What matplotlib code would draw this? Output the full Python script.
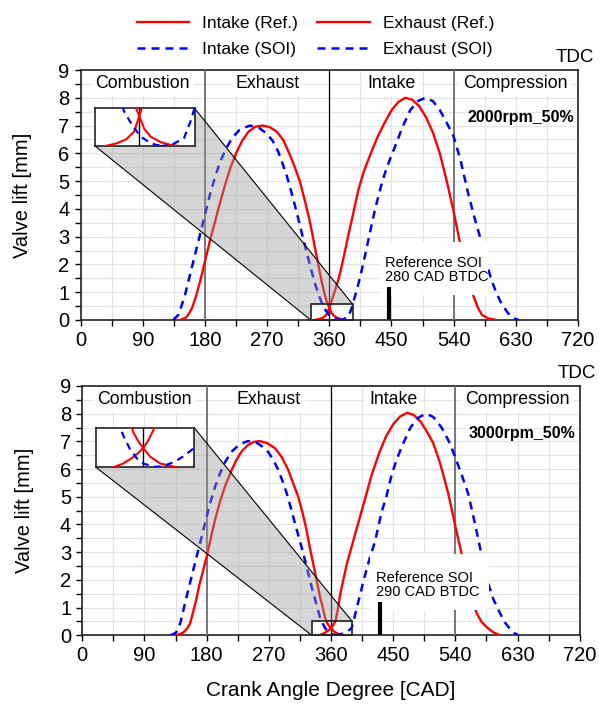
import matplotlib
matplotlib.use("Agg")
import matplotlib.pyplot as plt
from matplotlib.patches import Polygon, Rectangle
from matplotlib.lines import Line2D
from matplotlib.ticker import MultipleLocator

plt.rcParams['font.family'] = ['Liberation Sans', 'DejaVu Sans']

# ---- values: crank angle [CAD] and valve lift [mm] ----
# 2000rpm_50%
ex_ref_cad_2000 = [144, 152, 156, 161, 167, 173, 182, 188, 194.5, 201, 209, 217, 226, 234, 243, 253, 264,
                   274, 284, 294, 303, 310, 317.5, 324, 330, 335, 340, 345, 349, 353, 356, 360, 363, 367,
                   373, 379, 385]
ex_ref_lift_2000 = [0, 0.08, 0.2, 0.42, 0.85, 1.4, 2.32, 2.95, 3.54, 4.15, 4.86, 5.5, 6.06, 6.46, 6.78, 6.96, 7.0,
                    6.94, 6.78, 6.45, 5.94, 5.5, 4.98, 4.35, 3.75, 3.15, 2.5, 1.88, 1.38, 0.95, 0.68, 0.45, 0.26, 0.14,
                    0.06, 0.02, 0]
in_ref_cad_2000 = [339, 346, 352, 357, 360.5, 364, 368, 373, 378, 383, 387.5, 392.5, 402, 410, 420, 430, 440,
                   450, 460, 470, 480, 490, 500, 510, 520, 530, 540, 549, 558, 564, 569, 575, 581, 590, 602]
in_ref_lift_2000 = [0, 0.04, 0.1, 0.22, 0.48, 0.75, 1.05, 1.44, 1.95, 2.52, 3.05, 3.6, 4.68, 5.35, 6.0, 6.6, 7.1,
                    7.55, 7.85, 8.0, 7.93, 7.7, 7.3, 6.75, 6.0, 5.0, 3.9, 2.8, 1.8, 1.25, 0.84, 0.45, 0.18, 0.06, 0]
ex_soi_cad_2000 = [134, 142, 151, 157, 163, 169, 175, 181, 187, 194, 202, 210, 219, 230, 245, 258, 269, 278,
                   286, 292, 298, 304, 310, 316, 322, 328, 334.5, 340, 346.5, 351, 356, 361, 366, 370, 375]
ex_soi_lift_2000 = [0, 0.2, 0.9, 1.5, 2.1, 2.7, 3.3, 3.9, 4.5, 5.1, 5.7, 6.15, 6.54, 6.85, 7.0, 6.92, 6.72, 6.45,
                    6.06, 5.65, 5.22, 4.7, 4.14, 3.55, 2.94, 2.35, 1.74, 1.25, 0.78, 0.5, 0.3, 0.14, 0.06, 0.02, 0]
in_soi_cad_2000 = [373, 380, 387.5, 392, 397, 402, 407, 411.5, 416.5, 421, 426, 431, 436, 442, 448, 456, 466,
                   477, 488, 499, 510, 520, 530, 540, 550, 561, 570, 578, 586, 594, 602, 610, 619, 626, 634]
in_soi_lift_2000 = [0, 0.02, 0.12, 0.4, 0.84, 1.3, 1.8, 2.3, 2.88, 3.4, 3.96, 4.45, 4.92, 5.4, 5.8, 6.3, 6.95,
                    7.55, 7.88, 8.0, 7.88, 7.56, 7.1, 6.6, 5.75, 4.56, 3.7, 3.0, 2.2, 1.5, 0.96, 0.55, 0.24, 0.08, 0]

# 3000rpm_50%
ex_ref_cad_3000 = [137, 146, 152, 156, 160, 165, 170, 175, 180, 186, 192, 199, 206.5, 215, 223, 231, 240, 248,
                   257, 268, 279, 289, 298, 305, 312.5, 319, 324.5, 329, 334, 339, 344, 348, 351, 354, 357,
                   360, 364, 370, 380]
ex_ref_lift_3000 = [0, 0.1, 0.25, 0.43, 0.8, 1.3, 1.88, 2.35, 2.84, 3.5, 4.16, 4.8, 5.37, 5.9, 6.33, 6.65, 6.87,
                    6.98, 7.01, 6.93, 6.75, 6.42, 5.97, 5.5, 5.0, 4.4, 3.8, 3.2, 2.6, 2.0, 1.39, 1.0, 0.67, 0.46,
                    0.34, 0.25, 0.14, 0.05, 0]
in_ref_cad_3000 = [342, 348, 353, 357, 360, 363, 366.5, 370, 373, 382.5, 394.5, 406.7, 418.8, 430, 440, 450,
                   460, 470.5, 480, 490, 500, 508, 518, 529.6, 540, 551, 558, 565, 570.7, 578, 585, 594, 604.5]
in_ref_lift_3000 = [0, 0.05, 0.12, 0.19, 0.26, 0.36, 0.52, 0.95, 1.45, 2.54, 3.62, 4.7, 5.79, 6.6, 7.2, 7.62,
                    7.9, 8.03, 7.95, 7.7, 7.3, 6.93, 6.2, 5.13, 3.92, 2.72, 1.9, 1.25, 0.8, 0.48, 0.3, 0.12, 0]
ex_soi_cad_3000 = [128, 136, 142, 148.6, 154.5, 160.6, 166.7, 172.8, 178.8, 184.8, 192, 199.3, 207, 216.2, 228,
                   240, 254, 267, 276, 283.6, 290, 295.8, 301.8, 307.8, 313.8, 319.8, 325.8, 331.9, 338, 344,
                   348, 352, 356, 360, 366, 372]
ex_soi_lift_3000 = [0, 0.1, 0.45, 1.15, 1.75, 2.36, 2.96, 3.56, 4.16, 4.76, 5.35, 5.85, 6.27, 6.63, 6.9, 7.01,
                    6.93, 6.69, 6.35, 5.97, 5.55, 5.13, 4.6, 4.04, 3.5, 2.96, 2.36, 1.75, 1.2, 0.65, 0.42, 0.24,
                    0.12, 0.05, 0.01, 0]
in_soi_cad_3000 = [366, 372, 378, 384, 389.6, 393, 397, 402, 406.7, 415, 423.6, 433.3, 440, 447.7, 455, 464.5,
                   475, 486, 497.4, 508, 520, 532, 540, 549, 558.6, 569, 579.4, 587, 595, 604.5, 612, 620, 626, 631]
in_soi_lift_3000 = [0, 0.02, 0.07, 0.15, 0.25, 0.55, 0.97, 1.45, 1.94, 2.7, 3.38, 4.46, 5.0, 5.79, 6.35, 6.93,
                    7.5, 7.85, 8.0, 7.88, 7.5, 6.93, 6.4, 5.8, 5.1, 3.95, 2.72, 1.9, 1.3, 0.8, 0.45, 0.2, 0.07, 0]

case_names = ["2000rpm_50%", "3000rpm_50%"]
soi_btdc = [280, 290]
soi_bar_cad = [446, 431]
soi_bar_lift = 1.2
phase_names = ["Combustion", "Exhaust", "Intake", "Compression"]
phase_centres = [90, 270, 450, 630]

cases = [
    dict(ex_ref=(ex_ref_cad_2000, ex_ref_lift_2000), in_ref=(in_ref_cad_2000, in_ref_lift_2000),
         ex_soi=(ex_soi_cad_2000, ex_soi_lift_2000), in_soi=(in_soi_cad_2000, in_soi_lift_2000),
         zoom=(333, 394, 0, 0.56), inset=(21, 165, 6.26, 7.62), box=(433, 590, 0.9, 2.8), txt=(440, 1.3)),
    dict(ex_ref=(ex_ref_cad_3000, ex_ref_lift_3000), in_ref=(in_ref_cad_3000, in_ref_lift_3000),
         ex_soi=(ex_soi_cad_3000, ex_soi_lift_3000), in_soi=(in_soi_cad_3000, in_soi_lift_3000),
         zoom=(332, 390, 0, 0.52), inset=(20, 162, 6.06, 7.49), box=(416, 588, 0.9, 2.95), txt=(425, 1.3)),
]

RED = '#ff0000'
BLUE = '#0000ff'
DASH = (3.2, 2.4)


def draw_curves(ax, c, lw=1.7):
    for key in ("ex_ref", "in_ref"):
        ax.plot(*c[key], color=RED, lw=lw, zorder=3, solid_capstyle='butt')
    for key in ("ex_soi", "in_soi"):
        ax.plot(*c[key], color=BLUE, lw=lw + 0.1, dashes=DASH, zorder=3)


fig = plt.figure(figsize=(5.99, 7.13), dpi=100)
axes = [fig.add_axes([0.1347, 0.5512, 0.8302, 0.3506]),
        fig.add_axes([0.1374, 0.1090, 0.8305, 0.3497])]

for i, (ax, c) in enumerate(zip(axes, cases)):
    ax.set_xlim(0, 720)
    ax.set_ylim(0, 9)
    ax.xaxis.set_major_locator(MultipleLocator(90))
    ax.xaxis.set_minor_locator(MultipleLocator(45))
    ax.yaxis.set_major_locator(MultipleLocator(1))
    ax.yaxis.set_minor_locator(MultipleLocator(0.5))
    ax.grid(which='both', color='#e4e4e4', lw=0.9, zorder=0)
    ax.set_axisbelow(True)
    ax.tick_params(which='both', direction='out', length=4, width=1, labelsize=14.5, pad=4)
    for s in ax.spines.values():
        s.set_linewidth(1.2)
        s.set_color('#222222')

    draw_curves(ax, c)

    # phase boundaries
    ax.axvline(180, color='#777777', lw=1.4, zorder=2.8)
    ax.axvline(360, color='black', lw=0.9, zorder=2.8)
    ax.axvline(540, color='#777777', lw=1.4, zorder=2.8)

    for name, xc in zip(phase_names, phase_centres):
        ax.text(xc, 8.5, name, ha='center', va='center', fontsize=12.8, zorder=2.5,
                bbox=dict(facecolor='white', edgecolor='none', pad=3))
    ax.text(637, 7.3, case_names[i], ha='center', va='center', fontsize=11.5,
            fontweight='bold', zorder=6)
    ax.text(716, 9.15, "TDC", ha='center', va='bottom', fontsize=13.5, clip_on=False)

    # zoom connection
    zx0, zx1, zy0, zy1 = c["zoom"]
    ix0, ix1, iy0, iy1 = c["inset"]
    ax.add_patch(Polygon([(ix0, iy0), (zx0, zy0), (zx0, zy1), (zx1, zy1), (ix1, iy1), (ix0, iy1)],
                         closed=True, facecolor='#9a9a9a', alpha=0.4, edgecolor='none', zorder=4))
    ax.plot([ix0, zx0], [iy0, zy0], color='black', lw=0.8, zorder=4.5)
    ax.plot([ix1, zx1], [iy1, zy1], color='black', lw=0.8, zorder=4.5)
    ax.add_patch(Rectangle((zx0, zy0), zx1 - zx0, zy1 - zy0, fill=False, edgecolor='#222222',
                           lw=1.2, zorder=4.6, clip_on=False))

    ins = ax.inset_axes([ix0, iy0, ix1 - ix0, iy1 - iy0], transform=ax.transData, zorder=7)
    ins.set_facecolor('white')
    draw_curves(ins, c, lw=1.5)
    ins.axvline(360, color='black', lw=1.0, zorder=2.8)
    ins.set_xlim(zx0, zx1)
    ins.set_ylim(zy0, zy1)
    ins.set_xticks([])
    ins.set_yticks([])
    for s in ins.spines.values():
        s.set_linewidth(1.2)
        s.set_color('#222222')

    # reference SOI annotation
    bx0, bx1, by0, by1 = c["box"]
    ax.add_patch(Rectangle((bx0, by0), bx1 - bx0, by1 - by0, facecolor='white', edgecolor='none', zorder=5))
    ax.text(c["txt"][0], c["txt"][1], "Reference SOI\n%d CAD BTDC" % soi_btdc[i],
            ha='left', va='bottom', fontsize=10.5, linespacing=1.0, zorder=6)
    ax.plot([soi_bar_cad[i], soi_bar_cad[i]], [0, soi_bar_lift], color='black', lw=3,
            solid_capstyle='butt', zorder=6)

    ax.set_ylabel("Valve lift [mm]", fontsize=14.5, labelpad=19)

axes[1].set_xlabel("Crank Angle Degree [CAD]", fontsize=15, labelpad=11)

handles = [Line2D([], [], color=RED, lw=1.7), Line2D([], [], color=BLUE, lw=1.8, dashes=DASH),
           Line2D([], [], color=RED, lw=1.7), Line2D([], [], color=BLUE, lw=1.8, dashes=DASH)]
labels = ["Intake (Ref.)", "Intake (SOI)", "Exhaust (Ref.)", "Exhaust (SOI)"]
fig.legend(handles, labels, ncol=2, loc='upper center', bbox_to_anchor=(0.527, 1.0), frameon=False,
           fontsize=12.5, handlelength=3.0, columnspacing=1.1, handletextpad=0.8, labelspacing=0.62)

fig.savefig("out.png", dpi=100)
